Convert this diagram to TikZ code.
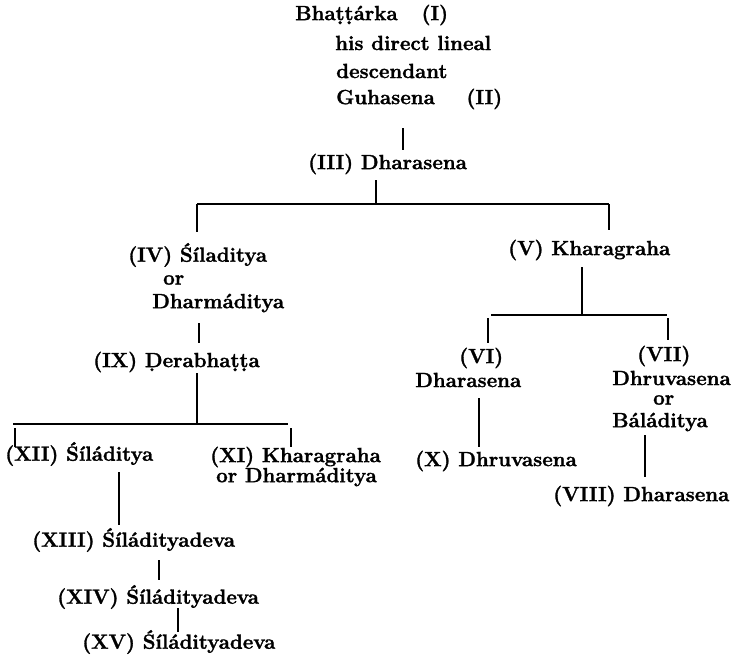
\documentclass[tikz,border=0pt]{standalone}
\usepackage{fontspec}
\usepackage{tikz}
\newfontfamily\heavyfont{Latin Modern Roman}[BoldFeatures={FakeBold=1.4}]

\begin{document}
\begin{tikzpicture}
    [x=0.03cm,y=-0.03cm,
     lbl/.style={anchor=west,inner sep=0pt,font=\fontsize{17.5}{20}\heavyfont\bfseries},
     lin/.style={line width=1.4pt},
     vlin/.style={line width=2.1pt}]
    \useasboundingbox (0,0) rectangle (747,660);

    % top of the line
    \node at (295,15)  (bhat) [lbl] {Bha\d{t}\d{t}\'arka\quad\,(I)};
    \node at (335,43)  (lineal) [lbl] {his direct lineal};
    \node at (336,71)  (desc) [lbl] {descendant};
    \node at (336,99)  (guha) [lbl] {Guhasena\quad\ \,(II)};
    \node at (308,164) (dh3) [lbl] {(III) Dharasena};

    % left branch
    \node at (128,255) (sil4) [lbl] {(IV) \'S\'{\i}laditya};
    \node at (163,280) (sil4 or) [lbl] {or};
    \node at (152,303) (sil4 alt) [lbl] {Dharm\'aditya};
    \node at (93,362)  (der9) [lbl] {(IX) \d{D}erabha\d{t}\d{t}a};
    \node at (5,454)   (sil12) [lbl] {(XII) \'S\'{\i}l\'aditya};
    \node at (210,457) (kh11) [lbl] {(XI) Kharagraha};
    \node at (216,477) (kh11 alt) [lbl] {or Dharm\'aditya};
    \node at (32,540)  (sil13) [lbl] {(XIII) \'S\'{\i}l\'adityadeva};
    \node at (57,597)  (sil14) [lbl] {(XIV) \'S\'{\i}l\'adityadeva};
    \node at (82,642)  (sil15) [lbl] {(XV) \'S\'{\i}l\'adityadeva};

    % right branch
    \node at (508,250) (kh5) [lbl] {(V) Kharagraha};
    \node at (459,358) (dh6 n) [lbl] {(VI)};
    \node at (415,380) (dh6) [lbl] {Dharasena};
    \node at (415,461) (dhr10) [lbl] {(X) Dhruvasena};
    \node at (637,356) (dhr7 n) [lbl] {(VII)};
    \node at (612,378) (dhr7) [lbl] {Dhruvasena};
    \node at (653,400) (dhr7 or) [lbl] {or};
    \node at (612,422) (dhr7 alt) [lbl] {B\'al\'aditya};
    \node at (553,496) (dh8) [lbl] {(VIII) Dharasena};

    % line ends
    \coordinate (g top) at (403,128);  \coordinate (g bot) at (403,150);
    \coordinate (d3 top) at (376,180); \coordinate (d3 bot) at (376,204);
    \coordinate (bar1 l) at (197,204); \coordinate (bar1 r) at (609,204);
    \coordinate (s4 tick) at (197,232); \coordinate (k5 tick) at (609,230);
    \coordinate (s4 top) at (199,323); \coordinate (s4 bot) at (199,343);
    \coordinate (d9 top) at (197,373); \coordinate (d9 bot) at (197,424);
    \coordinate (bar2 l) at (13,424);  \coordinate (bar2 r) at (288,424);
    \coordinate (s12 top) at (15,428); \coordinate (s12 bot) at (15,447);
    \coordinate (k11 top) at (291,428); \coordinate (k11 bot) at (291,447);
    \coordinate (s12 a) at (119,472);  \coordinate (s12 b) at (119,525);
    \coordinate (s13 a) at (159,560);  \coordinate (s13 b) at (159,580);
    \coordinate (s14 a) at (178,608);  \coordinate (s14 b) at (178,632);
    \coordinate (k5 top) at (582,267); \coordinate (k5 bot) at (582,314);
    \coordinate (bar3 l) at (491,315); \coordinate (bar3 r) at (667,315);
    \coordinate (d6 top) at (488,318); \coordinate (d6 bot) at (488,343);
    \coordinate (r7 top) at (668,318); \coordinate (r7 bot) at (668,340);
    \coordinate (d6 a) at (479,398);   \coordinate (d6 b) at (479,447);
    \coordinate (r7 a) at (645,435);   \coordinate (r7 b) at (645,477);

    \draw[vlin] (g top) -- (g bot);
    \draw[vlin] (d3 top) -- (d3 bot);
    \draw[lin] (bar1 l) -- (bar1 r);
    \draw[vlin] (bar1 l) -- (s4 tick);
    \draw[vlin] (bar1 r) -- (k5 tick);
    \draw[vlin] (s4 top) -- (s4 bot);
    \draw[vlin] (d9 top) -- (d9 bot);
    \draw[lin] (bar2 l) -- (bar2 r);
    \draw[vlin] (s12 top) -- (s12 bot);
    \draw[vlin] (k11 top) -- (k11 bot);
    \draw[vlin] (s12 a) -- (s12 b);
    \draw[vlin] (s13 a) -- (s13 b);
    \draw[vlin] (s14 a) -- (s14 b);
    \draw[vlin] (k5 top) -- (k5 bot);
    \draw[lin] (bar3 l) -- (bar3 r);
    \draw[vlin] (d6 top) -- (d6 bot);
    \draw[vlin] (r7 top) -- (r7 bot);
    \draw[vlin] (d6 a) -- (d6 b);
    \draw[vlin] (r7 a) -- (r7 b);
  \end{tikzpicture}
\end{document}
